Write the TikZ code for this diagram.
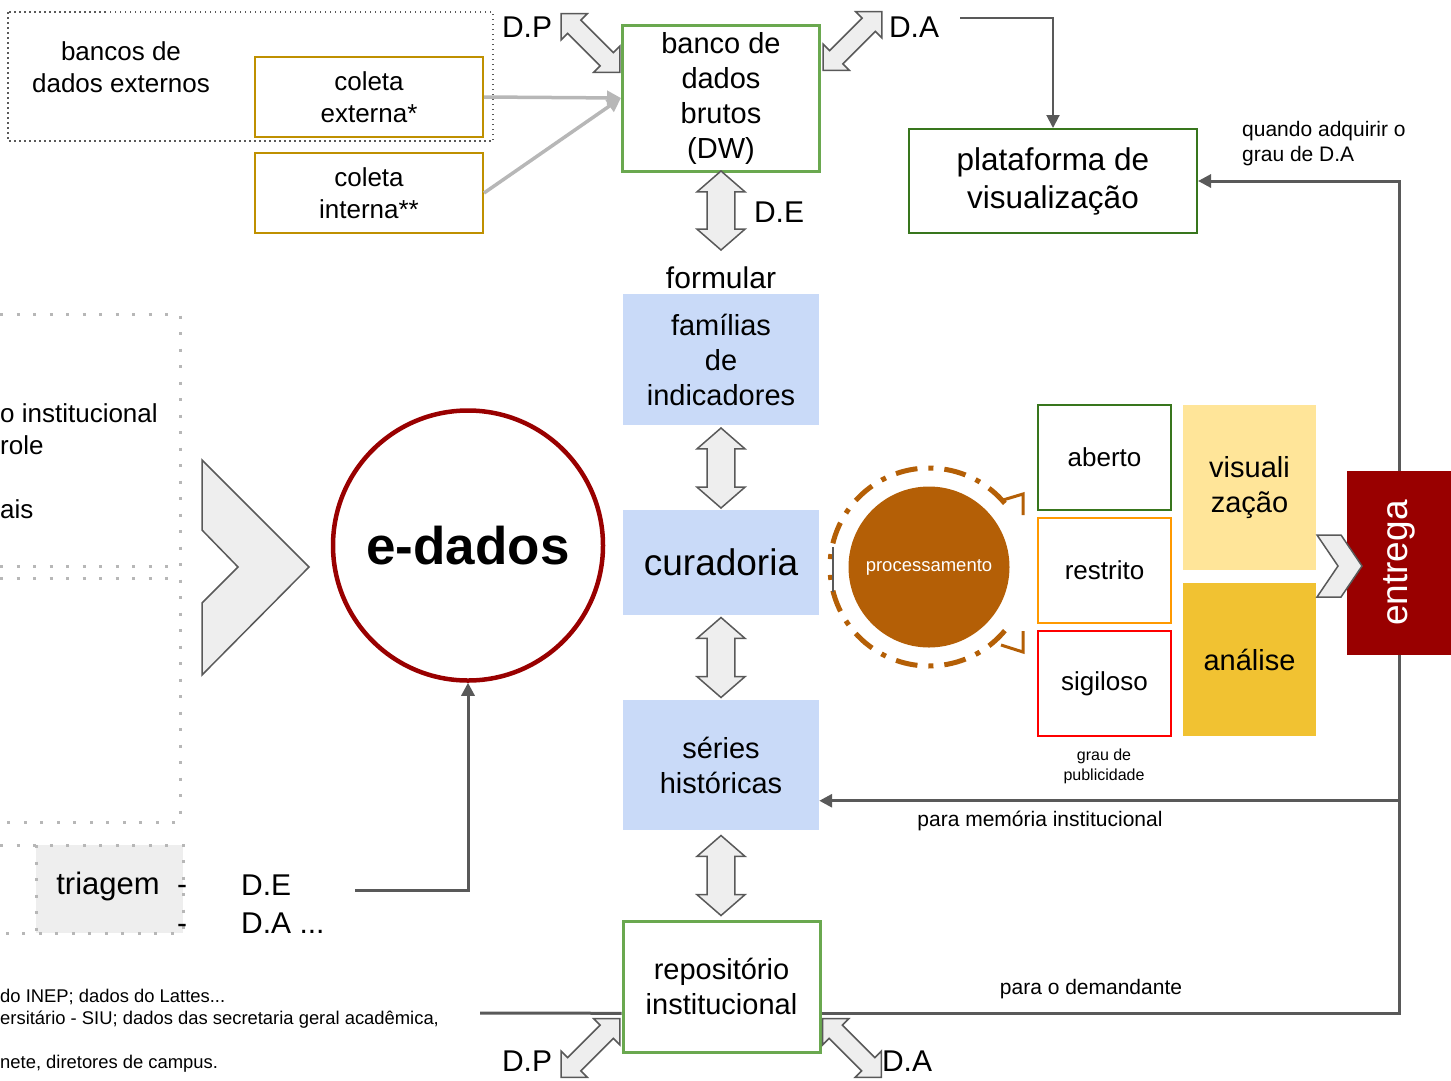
\documentclass[tikz,border=0pt]{standalone}
\usepackage{fontspec}
\setmainfont{Liberation Sans}
\usepackage{graphicx}
\usetikzlibrary{shapes.arrows,arrows.meta}

\definecolor{dgray}{HTML}{595959}
\definecolor{lgray}{HTML}{EEEEEE}
\definecolor{dotgray}{HTML}{B7B7B7}
\definecolor{gold}{HTML}{BF9000}
\definecolor{dwgreen}{HTML}{6AA84F}
\definecolor{dkgreen}{HTML}{38761D}
\definecolor{lblue}{HTML}{C9DAF8}
\definecolor{dred}{HTML}{990000}
\definecolor{procbrown}{HTML}{B45F06}
\definecolor{graorange}{HTML}{FF9900}
\definecolor{ylight}{HTML}{FFE599}
\definecolor{ydark}{HTML}{F1C232}

\begin{document}
\begin{tikzpicture}[x=1pt, y=-1pt,
  fa/.style = {font=\fontsize{29}{35}\selectfont},
  fb/.style = {font=\fontsize{26}{32}\selectfont},
  fc/.style = {font=\fontsize{21}{25}\selectfont},
  fd/.style = {font=\fontsize{30}{38}\selectfont},
  dw/.style = {draw=dwgreen, line width=3pt, fill=white, align=center, inner sep=0pt, minimum width=197pt, fa},
  ind/.style = {fill=lblue, align=center, inner sep=0pt, minimum width=196pt, fa},
  col/.style = {draw=gold, line width=2pt, align=center, inner sep=0pt, minimum width=228pt, minimum height=80pt, fb},
  grau/.style = {line width=2pt, inner sep=0pt, minimum width=133pt, minimum height=105pt, fb},
  res/.style = {align=center, inner sep=0pt, minimum width=133pt, fa},
  dbl/.style = {double arrow, draw=dgray, fill=lgray, line width=1.5pt, inner xsep=0pt, inner ysep=13pt, minimum width=48pt, minimum height=80pt, double arrow head extend=10pt, double arrow tip angle=98},
  dblx/.style = {dbl, inner ysep=8.5pt, minimum width=37pt, minimum height=83pt, double arrow head extend=9pt, double arrow tip angle=90},
  chev/.style = {draw=dgray, fill=lgray, line width=1.5pt},
  pts/.style = {draw=dotgray, line width=3pt, dash pattern=on 3pt off 13.5pt},
  link/.style = {draw=dgray, line width=3pt, -{Triangle[length=13pt, width=13pt]}},
  feed/.style = {draw=dotgray, line width=3.5pt, -{Triangle[length=14pt, width=14pt]}},
  ring/.style = {draw=procbrown, line width=5pt, dash pattern=on 22pt off 11pt on 5pt off 11pt}]
\useasboundingbox (0,0) rectangle (1451,1080);

\draw[dgray, line width=1.5pt, dash pattern=on 1.5pt off 3.5pt] (8,12) rectangle (493,141);
\node[fb, align=center] (bd) at (121,67) {bancos de\\dados externos};
\node[col] (ce) at (369,97) {coleta\\externa*};
\node[col] (ci) at (369,193) {coleta\\interna**};

\node[dw, minimum height=146pt] (1) at (721,98) {banco de\\dados\\brutos\\(DW)};
\node[fd] (fo) at (721,278) {formular};
\node[ind, minimum height=131pt] (2) at (721,359.5) {famílias\\de\\indicadores};
\node[ind, minimum height=105pt, font=\fontsize{37}{44}\selectfont] (3) at (721,562.5) {curadoria};
\node[ind, minimum height=130pt] (4) at (721,765) {séries\\históricas};
\node[dw, minimum height=131pt] (5) at (721.5,986.5) {repositório\\institucional};
\node[draw=dkgreen, line width=2pt, minimum width=288pt, minimum height=104pt, align=center, inner sep=0pt, font=\fontsize{31.5}{38}\selectfont] (6) at (1053,181) {plataforma de\\visualização};

\node[dbl, minimum height=79pt, rotate=90] (a1) at (721,210.5) {};
\node[dbl, rotate=90] (a2) at (721,468) {};
\node[dbl, rotate=90] (a3) at (721,657.5) {};
\node[dbl, rotate=90] (a4) at (721,875.5) {};
\node[dblx, rotate=-45] (a5) at (590.5,43) {};
\node[dblx, rotate=45] (a6) at (852.5,41) {};
\node[dblx, rotate=45] (a7) at (590.5,1048) {};
\node[dblx, rotate=-45] (a8) at (852,1048) {};
\node[fd] (dp1) at (527,27) {D.P};
\node[fd] (da1) at (914,27) {D.A};
\node[fd] (de1) at (779,212) {D.E};
\node[fd] (dp2) at (527,1061) {D.P};
\node[fd] (da2) at (907,1061) {D.A};

\node[circle, draw=dred, line width=4.5pt, fill=white, minimum size=270pt, font=\fontsize{53}{60}\selectfont\bfseries] (ed) at (468,545.5) {e-dados};
\draw[chev] (202,460) -- (309,567) -- (202,675) -- (202,603) -- (238,567) -- (202,530) -- cycle;

\node[circle, fill=procbrown, minimum size=161pt, inner sep=0pt, text=white, font=\fontsize{18.5}{22}\selectfont] (pr) at (929,567) {processamento};
\draw[ring] (pr.center) ++(-40:99) arc[start angle=-40, end angle=-180, radius=99];
\draw[ring] (pr.center) ++(40:99) arc[start angle=40, end angle=180, radius=99];
\draw[procbrown, line width=3pt] (1003,500) -- (1023,494) -- (1023,515);
\draw[procbrown, line width=3pt] (1001,645) -- (1023,652) -- (1023,631);
\draw[dgray, line width=1.5pt] (833,547) -- (833,592);

\node[grau, draw=dkgreen] (ab) at (1104.5,457.5) {aberto};
\node[grau, draw=graorange] (rs) at (1104.5,570.5) {restrito};
\node[grau, draw=red] (sg) at (1104.5,683.5) {sigiloso};
\node[align=center, inner sep=0pt, font=\fontsize{16}{20}\selectfont] (gp) at (1104,766) {grau de\\publicidade};
\node[res, fill=ylight, minimum height=165pt] (vi) at (1249.5,487.5) {visuali\\zação};
\node[res, fill=ydark, minimum height=153pt] (an) at (1249.5,659.5) {análise};
\node[fill=dred, minimum width=104pt, minimum height=184pt, inner sep=0pt, text=white, font=\fontsize{37}{44}\selectfont] (en) at (1399,563) {\rotatebox{90}{entrega}};
\draw[chev] (1317,535) -- (1341,535) -- (1362,566) -- (1341,597) -- (1317,597) -- (1338,566) -- cycle;

\draw[pts] (0,314) -- (180,314) -- (180,822) -- (0,822);
\draw[pts] (0,566) -- (172,566);
\draw[pts] (0,578) -- (170,578);
\fill[lgray] (36,845) rectangle (183,933);
\draw[pts] (0,845) -- (183,845) -- (183,933) -- (0,933);
\draw[pts] (36,845) -- (36,933);
\node[fb, anchor=west, align=left, inner sep=0pt] (lt) at (0,461) {o institucional\\role\\[32pt]ais};
\node[font=\fontsize{31}{38}\selectfont] (tr) at (108,886) {triagem};
\node[fd] (d1) at (182,890) {-};
\node[fd] (d2) at (182,929) {-};
\node[fd, anchor=west, align=left, inner sep=0pt] (de2) at (241,904) {D.E\\D.A ...};
\node[anchor=west, align=left, inner sep=0pt, font=\fontsize{18.4}{22}\selectfont] (ft) at (0,1031) {do INEP; dados do Lattes...\\ersitário - SIU; dados das secretaria geral acadêmica,\\[22pt]nete, diretores de campus.};

\node[fc, anchor=west, align=left, inner sep=0pt] (qa) at (1242,144) {quando adquirir o\\grau de D.A};
\node[fc] (pm) at (1040,821) {para memória institucional};
\node[fc] (pd) at (1091,989) {para o demandante};

\draw[feed] (ce.east) -- (1.west);
\draw[feed] (ci.east) -- (1.west);
\coordinate (c1) at (960,18);
\draw[link, line width=2pt] (c1) -| (6.north);
\draw[link] (en.north) |- (6.east);
\draw[link] (en.south |- 4.-20) -- (4.-20);
\coordinate (c2) at (480,1013);
\draw[link, -] (c2) -- (5.195);
\draw[link, -] (5.-15) -| (en.south);
\coordinate (c5) at (355,890);
\draw[link] (c5) -| (ed.south);
\end{tikzpicture}
\end{document}
